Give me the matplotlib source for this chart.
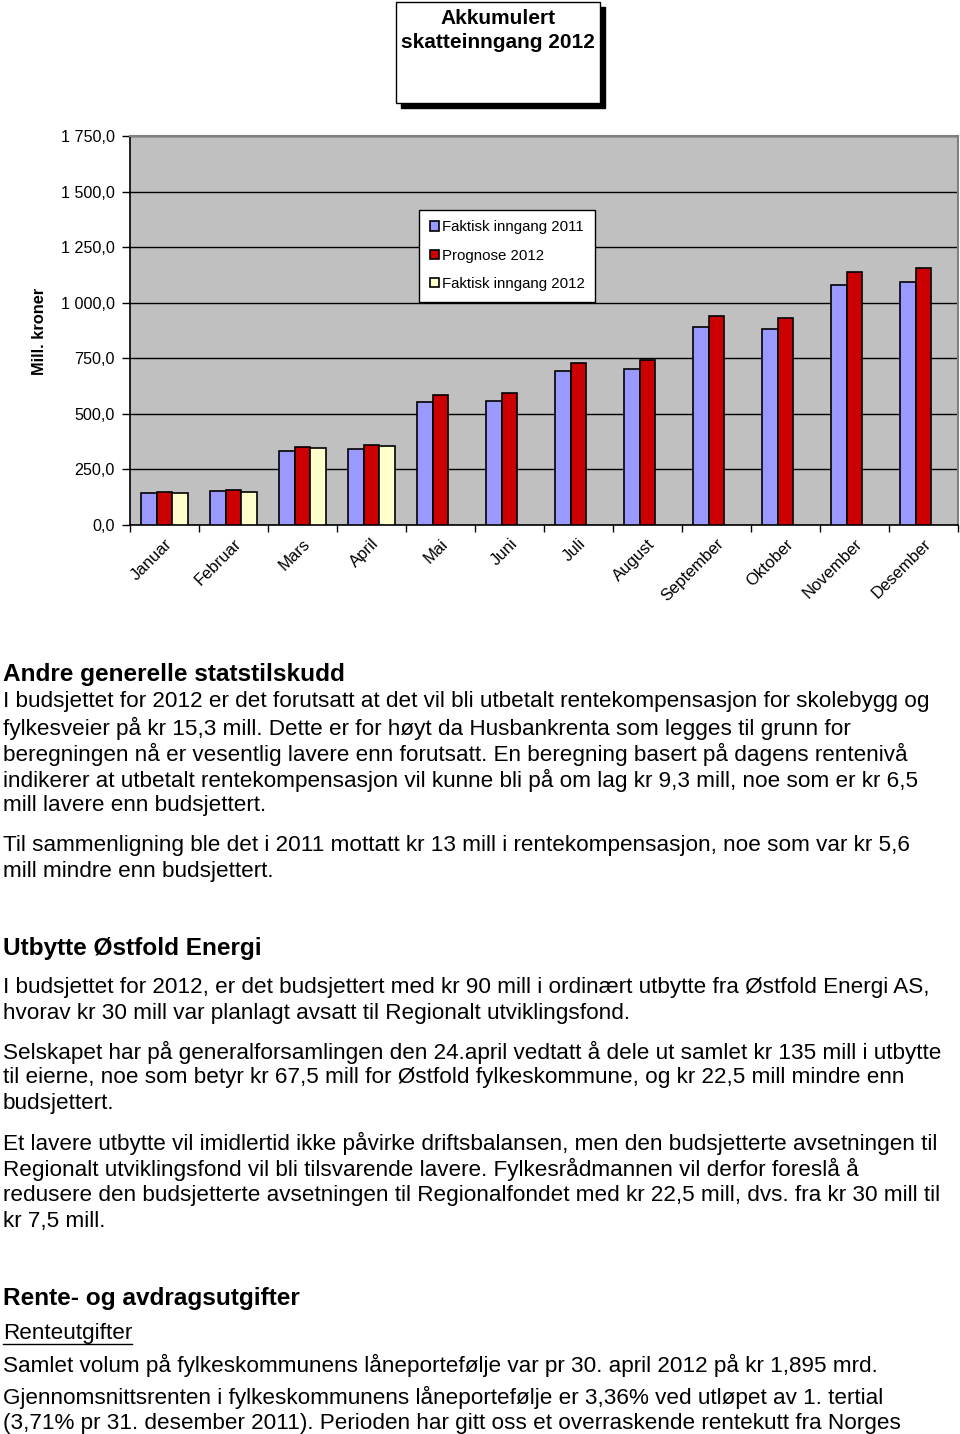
import numpy as np
import matplotlib
matplotlib.use("Agg")
import matplotlib.pyplot as plt
from matplotlib.patches import Rectangle
from matplotlib.lines import Line2D
from matplotlib.ticker import FuncFormatter

plt.rcParams['font.family'] = ['Liberation Sans', 'DejaVu Sans']

months = ["Januar", "Februar", "Mars", "April", "Mai", "Juni", "Juli",
          "August", "September", "Oktober", "November", "Desember"]
faktisk_2011 = [142, 151, 331, 343, 555, 560, 691, 702, 891, 882, 1079, 1091]
prognose_2012 = [148, 157, 352, 361, 585, 594, 731, 742, 939, 932, 1140, 1158]
faktisk_2012 = [142, 147, 347, 356]
series_names = ["Faktisk inngang 2011", "Prognose 2012", "Faktisk inngang 2012"]
colors = ["#9999FF", "#CC0000", "#FFFFCC"]

sections = [
    ("head", "Andre generelle statstilskudd", 673),
    ("body", "I budsjettet for 2012 er det forutsatt at det vil bli utbetalt rentekompensasjon for skolebygg og", 700),
    ("body", "fylkesveier på kr 15,3 mill. Dette er for høyt da Husbankrenta som legges til grunn for", 726),
    ("body", "beregningen nå er vesentlig lavere enn forutsatt. En beregning basert på dagens rentenivå", 752),
    ("body", "indikerer at utbetalt rentekompensasjon vil kunne bli på om lag kr 9,3 mill, noe som er kr 6,5", 778),
    ("body", "mill lavere enn budsjettert.", 804),
    ("body", "Til sammenligning ble det i 2011 mottatt kr 13 mill i rentekompensasjon, noe som var kr 5,6", 843),
    ("body", "mill mindre enn budsjettert.", 869),
    ("head", "Utbytte Østfold Energi", 947),
    ("body", "I budsjettet for 2012, er det budsjettert med kr 90 mill i ordinært utbytte fra Østfold Energi AS,", 986),
    ("body", "hvorav kr 30 mill var planlagt avsatt til Regionalt utviklingsfond.", 1012),
    ("body", "Selskapet har på generalforsamlingen den 24.april vedtatt å dele ut samlet kr 135 mill i utbytte", 1050),
    ("body", "til eierne, noe som betyr kr 67,5 mill for Østfold fylkeskommune, og kr 22,5 mill mindre enn", 1076),
    ("body", "budsjettert.", 1102),
    ("body", "Et lavere utbytte vil imidlertid ikke påvirke driftsbalansen, men den budsjetterte avsetningen til", 1141),
    ("body", "Regionalt utviklingsfond vil bli tilsvarende lavere. Fylkesrådmannen vil derfor foreslå å", 1167),
    ("body", "redusere den budsjetterte avsetningen til Regionalfondet med kr 22,5 mill, dvs. fra kr 30 mill til", 1193),
    ("body", "kr 7,5 mill.", 1219),
    ("head", "Rente- og avdragsutgifter", 1297),
    ("under", "Renteutgifter", 1331),
    ("body", "Samlet volum på fylkeskommunens låneportefølje var pr 30. april 2012 på kr 1,895 mrd.", 1363),
    ("body", "Gjennomsnittsrenten i fylkeskommunens låneportefølje er 3,36% ved utløpet av 1. tertial", 1395),
    ("body", "(3,71% pr 31. desember 2011). Perioden har gitt oss et overraskende rentekutt fra Norges", 1421),
]

W, H = 960, 1434
fig = plt.figure(figsize=(W / 100, H / 100), dpi=100)

def fy(py):
    return 1 - py / H

ax = fig.add_axes([130 / W, fy(525), 828 / W, 389 / H])
ax.set_facecolor("#C0C0C0")

x = np.arange(len(months))
w = 0.225
series = [faktisk_2011, prognose_2012, faktisk_2012]
handles = []
for i, (vals, c, name) in enumerate(zip(series, colors, series_names)):
    b = ax.bar(x[:len(vals)] + (i - 1) * w, vals, width=w, color=c,
               edgecolor="black", linewidth=1.2, label=name, zorder=3)
    handles.append(b)

ax.set_xlim(-0.5, len(months) - 0.5)
ax.set_ylim(0, 1750)
ax.set_yticks(np.arange(0, 1751, 250))
ax.yaxis.set_major_formatter(FuncFormatter(
    lambda v, p: f"{v:,.1f}".replace(",", " ").replace(".", ",")))
ax.yaxis.grid(True, color="black", linewidth=1, zorder=1)
ax.set_axisbelow(True)

ax.set_xticks(x)
ax.set_xticklabels(months, rotation=45, ha="right", rotation_mode="anchor",
                   fontsize=12)
ax.tick_params(axis="x", length=0, pad=8)
ax.set_xticks(np.arange(-0.5, len(months)), minor=True)
ax.tick_params(axis="x", which="minor", length=5, width=1, direction="out")
ax.tick_params(axis="y", length=6, width=1, labelsize=11.6, pad=5)

for s in ["top", "right"]:
    ax.spines[s].set_color("#808080")
    ax.spines[s].set_linewidth(1.5)
ax.spines["left"].set_linewidth(1.2)
ax.spines["bottom"].set_linewidth(1.2)

fig.text(39 / W, fy(331), "Mill. kroner", rotation=90, fontsize=11.8,
         fontweight="bold", ha="center", va="center")

leg = ax.legend(handles=handles, loc="upper left",
                bbox_to_anchor=(419 / W, fy(210)), bbox_transform=fig.transFigure,
                fontsize=10.8, frameon=True, fancybox=False, framealpha=1,
                edgecolor="black", handlelength=0.6, handleheight=0.6,
                handletextpad=0.2, labelspacing=0.95, borderpad=0.7,
                borderaxespad=0)
leg.get_frame().set_linewidth(1.0)
leg.set_zorder(5)

# title box with shadow
fig.patches.append(Rectangle((401 / W, fy(108)), 204 / W, 101 / H,
                             transform=fig.transFigure, facecolor="black",
                             edgecolor="black"))
fig.patches.append(Rectangle((396 / W, fy(103)), 204 / W, 101 / H,
                             transform=fig.transFigure, facecolor="white",
                             edgecolor="black", linewidth=1))
fig.text(498 / W, fy(18), "Akkumulert", fontsize=15, fontweight="bold",
         ha="center", va="center")
fig.text(498 / W, fy(42), "skatteinngang 2012", fontsize=15,
         fontweight="bold", ha="center", va="center")

for kind, txt, py in sections:
    py = py + 2
    if kind == "head":
        fig.text(3 / W, fy(py), txt, fontsize=17.6, fontweight="bold",
                 ha="left", va="center")
    else:
        t = fig.text(3 / W, fy(py), txt, fontsize=16.2, ha="left", va="center")
        if kind == "under":
            fig.canvas.draw()
            bb = t.get_window_extent()
            yl = fy(py + 11)
            fig.add_artist(Line2D([bb.x0 / W, bb.x1 / W], [yl, yl],
                                  transform=fig.transFigure, color="black",
                                  linewidth=1))

fig.savefig("out.png", dpi=100)
